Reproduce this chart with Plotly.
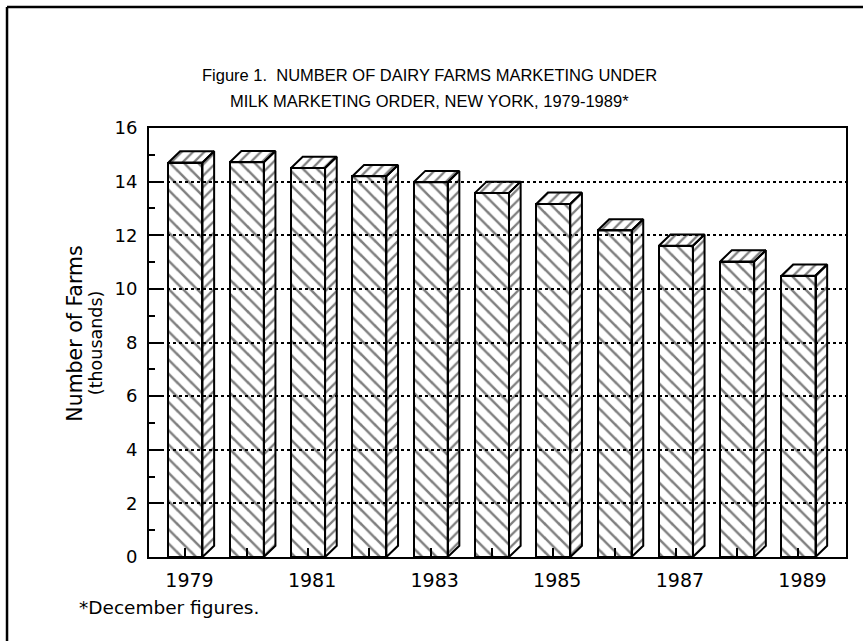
import plotly.graph_objects as go

# December counts of dairy farms under the NY milk marketing order (thousands)
YEARS = [1979, 1980, 1981, 1982, 1983, 1984, 1985, 1986, 1987, 1988, 1989]
FARMS = [14.71, 14.72, 14.51, 14.20, 13.98, 13.58, 13.17, 12.18, 11.61, 11.02, 10.49]
LABEL_YEARS = [1979, 1981, 1983, 1985, 1987, 1989]
Y_TICKS = [0, 2, 4, 6, 8, 10, 12, 14, 16]

TITLE_1 = "Figure 1.  NUMBER OF DAIRY FARMS MARKETING UNDER"
TITLE_2 = "MILK MARKETING ORDER, NEW YORK, 1979-1989*"
FOOTNOTE = "*December figures."

BAR_W = 0.555   # front face width, in years
DX = 0.19       # depth offset, in years
DY = 0.42       # depth offset, in thousands
CLEAR = "rgba(0,0,0,0)"
ROUND_FONT = "DejaVu Sans"
TITLE_FONT = "Liberation Sans, Arial"


def side_faces(xs, vs):
    px, py = [], []
    for x, v in zip(xs, vs):
        xr = x + BAR_W / 2
        px += [xr, xr + DX, xr + DX, xr, xr, None]
        py += [0, DY, v + DY, v, 0, None]
    return px, py


def top_faces(xs, vs):
    px, py = [], []
    for x, v in zip(xs, vs):
        xl, xr = x - BAR_W / 2, x + BAR_W / 2
        px += [xl, xl + DX, xr + DX, xr, xl, None]
        py += [v, v + DY, v + DY, v, v, None]
    return px, py


front = go.Bar(
    x=YEARS,
    y=FARMS,
    width=BAR_W,
    marker=dict(
        color=CLEAR,
        line=dict(color="black", width=2),
        pattern=dict(shape="\\", fgcolor="black", bgcolor=CLEAR, size=10, solidity=0.25),
    ),
    hoverinfo="skip",
)

sx, sy = side_faces(YEARS, FARMS)
side = go.Scatter(
    x=sx, y=sy, mode="lines", fill="toself", fillcolor=CLEAR,
    fillpattern=dict(shape="/", fgcolor="black", bgcolor=CLEAR, size=8, solidity=0.28),
    line=dict(color="black", width=2), hoverinfo="skip",
)

tx, ty = top_faces(YEARS, FARMS)
top = go.Scatter(
    x=tx, y=ty, mode="lines", fill="toself", fillcolor=CLEAR,
    fillpattern=dict(shape="/", fgcolor="black", bgcolor=CLEAR, size=8, solidity=0.28),
    line=dict(color="black", width=2), hoverinfo="skip",
)

fig = go.Figure(data=[front, side, top])

ticktext = [str(y) if y in LABEL_YEARS else "" for y in YEARS]

fig.update_layout(
    width=863,
    height=641,
    margin=dict(l=149, r=17, t=128, b=84),
    paper_bgcolor="white",
    plot_bgcolor="white",
    showlegend=False,
    bargap=0,
    xaxis=dict(
        range=[1978.405, 1989.775],
        tickvals=YEARS,
        ticktext=ticktext,
        ticks="inside",
        ticklen=9,
        tickwidth=1.5,
        tickcolor="black",
        ticklabelshift=4,
        ticklabelstandoff=5,
        tickfont=dict(family=ROUND_FONT, size=19, color="black"),
        showline=True,
        mirror=True,
        linecolor="black",
        linewidth=2,
        showgrid=False,
        zeroline=False,
    ),
    yaxis=dict(
        range=[0, 16],
        tickvals=Y_TICKS,
        ticks="inside",
        ticklen=14,
        tickwidth=1.5,
        tickcolor="black",
        ticklabelstandoff=6,
        tickfont=dict(family=ROUND_FONT, size=18, color="black"),
        minor=dict(ticks="inside", ticklen=6, dtick=1, tickwidth=1.5,
                   tickcolor="black", showgrid=False),
        showline=True,
        mirror=True,
        linecolor="black",
        linewidth=2,
        showgrid=True,
        gridcolor="black",
        griddash="dot",
        gridwidth=1.5,
        zeroline=False,
    ),
    shapes=[
        dict(type="line", xref="paper", yref="paper", x0=-0.2037, x1=-0.2037,
             y0=-0.2, y1=1.282, line=dict(color="black", width=2.5)),
        dict(type="line", xref="paper", yref="paper", x0=-0.2037, x1=1.03,
             y0=1.282, y1=1.282, line=dict(color="black", width=2.5)),
    ],
    annotations=[
        dict(text=TITLE_1, xref="paper", yref="paper", x=0.403, y=1.1235,
             xanchor="center", yanchor="middle", showarrow=False,
             font=dict(family=TITLE_FONT, size=16.5, color="black")),
        dict(text=TITLE_2, xref="paper", yref="paper", x=0.403, y=1.063,
             xanchor="center", yanchor="middle", showarrow=False,
             font=dict(family=TITLE_FONT, size=16.5, color="black")),
        dict(text="Number of Farms", xref="paper", yref="paper", x=-0.1065, y=0.52,
             xanchor="center", yanchor="middle", textangle=-90, showarrow=False,
             font=dict(family=ROUND_FONT, size=20.5, color="black")),
        dict(text="(thousands)", xref="paper", yref="paper", x=-0.0757, y=0.499,
             xanchor="center", yanchor="middle", textangle=-90, showarrow=False,
             font=dict(family=ROUND_FONT, size=17.5, color="black")),
        dict(text=FOOTNOTE, xref="paper", yref="paper", x=-0.1033, y=-0.1166,
             xanchor="left", yanchor="middle", showarrow=False,
             font=dict(family=ROUND_FONT, size=18.5, color="black")),
    ],
)

fig.write_html("out.html", config={"displayModeBar": False},
               post_script="document.body.style.margin='0px';")
